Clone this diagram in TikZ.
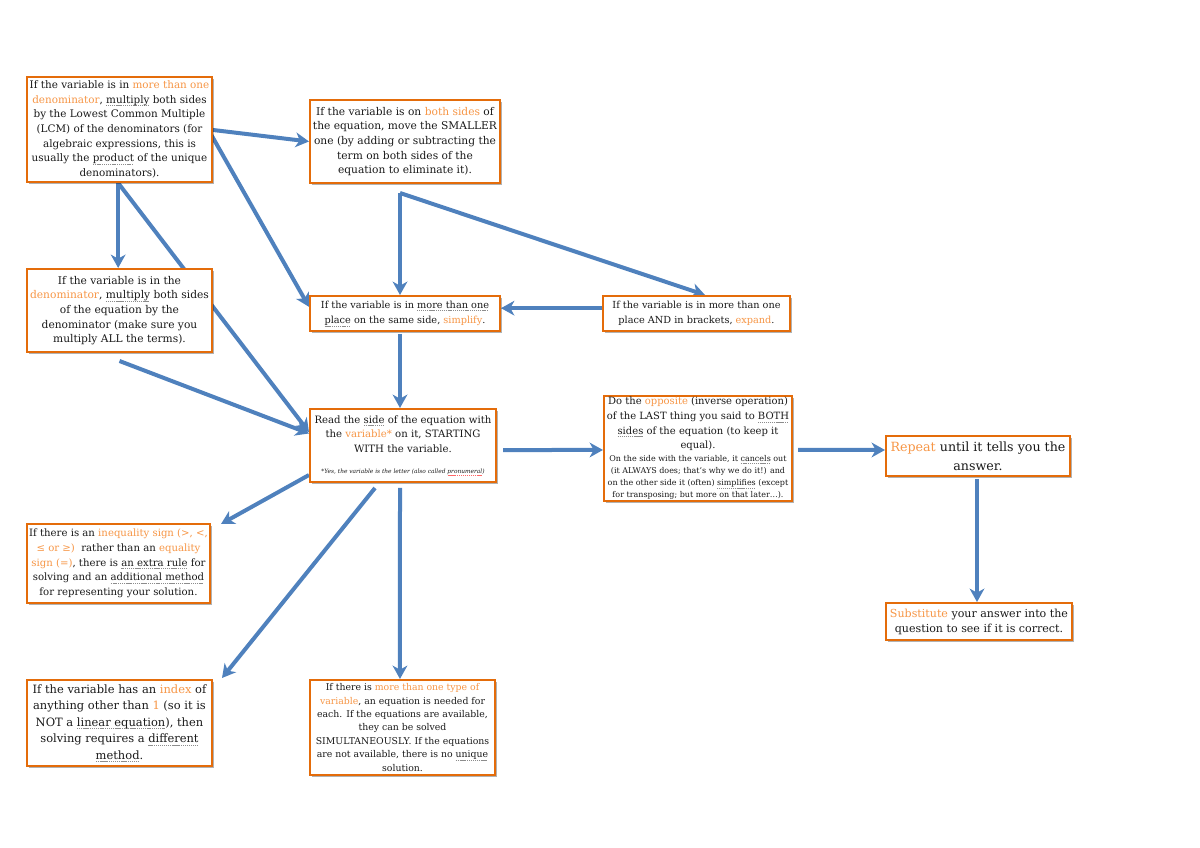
\documentclass[tikz,border=0pt]{standalone}
\usepackage{fontspec}
\setmainfont{DejaVu Serif}
\usetikzlibrary{arrows.meta,shadows,calc}
\definecolor{orbord}{HTML}{E46C0A}
\definecolor{orlt}{HTML}{F79646}
\definecolor{arrblue}{HTML}{4F81BD}
\definecolor{txt}{HTML}{1A1A1A}
\pgfdeclarelayer{bg}
\pgfsetlayers{bg,main}
\newsavebox\gulbox
\newcommand\orn[1]{\textcolor{orlt}{#1}}
\newcommand\ulgen[3]{\sbox\gulbox{#3}\rlap{\raisebox{#2}{\textcolor{#1}{\hbox to\wd\gulbox{\xleaders\hbox{\rule{0.9pt}{0.4pt}\kern0.5pt}\hfill}}}}\usebox\gulbox}
\newcommand\gul[1]{\ulgen{black!45}{-1.9pt}{#1}}
\newcommand\rul[1]{\ulgen{red!60}{-1.1pt}{#1}}
\newcommand\fsz[2]{\fontsize{#1}{#2}\selectfont}
\begin{document}
\begin{tikzpicture}[x=0.75pt,y=-0.75pt,
  box/.style={draw=orbord, line width=1.5pt, fill=white, align=center, inner sep=1pt,
    text=txt, drop shadow={shadow xshift=1.8pt, shadow yshift=-1.8pt, fill=black, opacity=0.3}},
  sz/.style 2 args={minimum width=#1*0.75pt, minimum height=#2*0.75pt},
  arr/.style={draw=arrblue, line width=3pt, -{Stealth[length=10pt,width=11pt,inset=3pt]}}]
\useasboundingbox (0,0) rectangle (1200,848);

\node[box, sz={185}{105}, font=\fsz{7.8}{11}] (lcm) at (119.5,129.5)
 {If the variable is in \orn{more than one}\\
  \orn{denominator}, \gul{multiply} both sides\\
  by the Lowest Common Multiple\\
  (LCM) of the denominators (for\\
  algebraic expressions, this is\\
  usually the \gul{product} of the unique\\
  denominators).};

\node[box, sz={190}{83}, font=\fsz{8}{11}] (both) at (405,141.5)
 {If the variable is on \orn{both sides} of\\
  the equation, move the SMALLER\\
  one (by adding or subtracting the\\
  term on both sides of the\\
  equation to eliminate it).};

\node[box, sz={185}{83}, font=\fsz{8}{11}] (den) at (119.5,310.5)
 {If the variable is in the\\
  \orn{denominator}, \gul{multiply} both sides\\
  of the equation by the\\
  denominator (make sure you\\
  multiply ALL the terms).};

\node[box, sz={190}{35}, font=\fsz{7.3}{11.5}] (simp) at (405,313.5)
 {If the variable is in \gul{more than one}\\
  \gul{place} on the same side, \orn{simplify}.};

\node[box, sz={187}{35}, font=\fsz{7.3}{11.5}] (exp) at (696.5,313.5)
 {If the variable is in more than one\\
  place AND in brackets, \orn{expand}.};

\node[box, sz={186}{73}, font=\fsz{7.6}{11}] (read) at (403,445.5)
 {Read the \gul{side} of the equation with\\
  the \orn{variable*} on it, STARTING\\
  WITH the variable.\\[5pt]
  \fsz{4.4}{5}\itshape *Yes, the variable is the letter (also called \rul{pronumeral})};

\node[box, sz={188}{103}, font=\fsz{7.5}{11}] (opp) at (698,448.5)
 {Do the \orn{opposite} (inverse operation)\\
  of the LAST thing you said to \gul{BOTH}\\
  \gul{sides} of the equation (to keep it\\
  equal).\\[-1.8pt]
  \fsz{6}{9}On the side with the variable, it \gul{cancels} out\\[-1.8pt]
  \fsz{6}{9}(it ALWAYS does; that's why we do it!) and\\[-1.8pt]
  \fsz{6}{9}on the other side it (often) \gul{simplifies} (except\\[-1.8pt]
  \fsz{6}{9}for transposing; but more on that later…).};

\node[box, sz={184}{40}, font=\fsz{9.5}{14}] (rep) at (978,456)
 {\orn{Repeat} until it tells you the\\ answer.};

\node[box, sz={186}{37}, font=\fsz{8.3}{11.3}] (sub) at (979,621.5)
 {\orn{Substitute} your answer into the\\ question to see if it is correct.};

\node[box, sz={183}{79}, font=\fsz{7.6}{11}] (ineq) at (118.5,563.5)
 {If there is an \orn{inequality sign (>, <,}\\
  \orn{≤ or ≥)}~ rather than an \orn{equality}\\
  \orn{sign (=)}, there is \gul{an extra rule} for\\
  solving and an \gul{additional method}\\
  for representing your solution.};

\node[box, sz={185}{86}, font=\fsz{8.6}{12.4}] (idx) at (119.5,723)
 {If the variable has an \orn{index} of\\
  anything other than \orn{1} (so it is\\
  NOT a \gul{linear equation}), then\\
  solving requires a \gul{different}\\
  \gul{method}.};

\node[box, sz={185}{95}, font=\fsz{7}{10.1}] (type) at (402.5,727.5)
 {If there is \orn{more than one type of}\\
  \orn{variable}, an equation is needed for\\
  each. If the equations are available,\\
  they can be solved\\
  SIMULTANEOUSLY. If the equations\\
  are not available, there is no \gul{unique}\\
  solution.};

\begin{pgfonlayer}{bg}
\draw[arr] ([xshift=-3pt]lcm.east) -- (both.west);
\draw[arr] ([xshift=-3pt,yshift=-1pt]lcm.east) -- ([yshift=5pt]simp.west);
\draw[arr] ([xshift=-1pt]lcm.south) -- ([xshift=-1pt]den.north);
\draw[arr] ([xshift=-1pt]lcm.south) -- ([yshift=10pt]read.west);
\draw[arr] ([yshift=-6pt]den.south) -- ([yshift=9pt]read.west);
\draw[arr] ([shift={(-3.75pt,-6.75pt)}]both.south) -- ([xshift=-3.75pt]simp.north);
\draw[arr] ([shift={(-3.75pt,-6.75pt)}]both.south) -- ([xshift=6.4pt]exp.north);
\draw[arr] ([yshift=4pt]exp.west) -- ([yshift=4pt]simp.east);
\draw[arr] ([shift={(-3.75pt,-1.5pt)}]simp.south) -- ([xshift=-2.25pt]read.north);
\draw[arr] ([shift={(4.5pt,-3.4pt)}]read.east) -- ([yshift=-1.1pt]opp.west);
\draw[arr] ([shift={(3.75pt,-1.1pt)}]opp.east) -- ([yshift=4.5pt]rep.west);
\draw[arr] ([xshift=-0.75pt,yshift=-1.5pt]rep.south) -- ([xshift=-1.5pt]sub.north);
\draw[arr] ([yshift=6pt]read.south west) -- ([shift={(7.5pt,-0.75pt)}]ineq.north east);
\draw[arr] ([shift={(-21pt,-3.75pt)}]read.south) -- ([shift={(6.75pt,0.75pt)}]idx.north east);
\draw[arr] ([shift={(-2.25pt,-3.75pt)}]read.south) -- ([xshift=-1.9pt]type.north);
\end{pgfonlayer}
\end{tikzpicture}
\end{document}
